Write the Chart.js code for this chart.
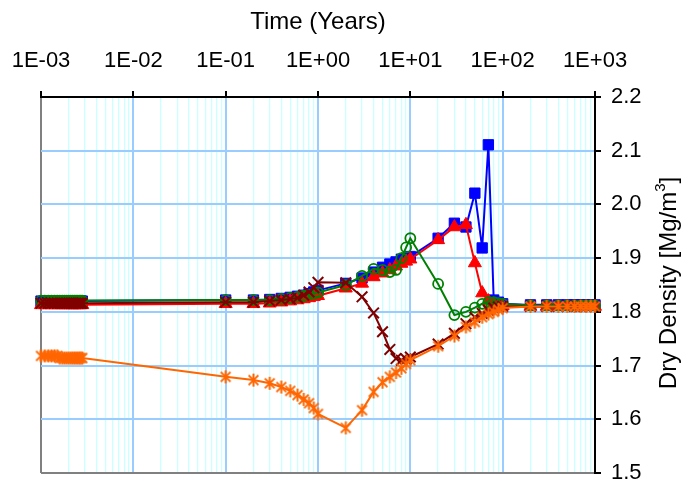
<!DOCTYPE html>
<html><head><meta charset="utf-8">
<script src="https://cdn.jsdelivr.net/npm/chart.js@4/dist/chart.umd.min.js"></script>
<style>html,body{margin:0;padding:0;background:#fff}</style>
</head><body>
<canvas id="c" width="684" height="485" style="display:block;width:684px;height:485px"></canvas>
<script>
// ---- data ----
const times = [0.001,0.0011,0.0012,0.0013,0.0014,0.0015,0.0016,0.0017,0.0018,0.0019,0.002,0.0021,0.0022,0.0023,0.0024,0.0025,0.0026,0.0027,0.0028,
  0.1,0.2,0.3,0.4,0.5,0.6,0.7,0.8,0.9,1,2,3,4,5,6,7,8,9,10,20,30,40,50,60,70,80,90,100,200,300,400,500,600,700,800,900,1000];
const blueVals = [1.82,1.82,1.82,1.82,1.82,1.82,1.82,1.82,1.82,1.82,1.82,1.82,1.82,1.82,1.82,1.82,1.82,1.82,1.82,
  1.822,1.822,1.823,1.825,1.827,1.829,1.831,1.834,1.837,1.84,
  1.853,1.863,1.874,1.883,1.889,1.893,1.898,1.900,1.903,
  1.937,1.965,1.958,2.021,1.919,2.111,1.822,1.818,1.815,
  1.813,1.813,1.813,1.813,1.813,1.813,1.813,1.813,1.813];
const redVals = [1.813,1.813,1.813,1.813,1.813,1.813,1.813,1.813,1.813,1.813,1.813,1.813,1.813,1.813,1.813,1.813,1.813,1.813,1.813,
  1.815,1.815,1.816,1.818,1.82,1.822,1.824,1.826,1.828,1.83,
  1.844,1.853,1.865,1.872,1.878,1.885,1.89,1.894,1.898,
  1.934,1.958,1.962,1.891,1.835,1.82,1.814,1.812,1.811,
  1.81,1.81,1.81,1.81,1.81,1.81,1.81,1.81,1.81];
const greenVals = [1.821,1.821,1.821,1.821,1.821,1.821,1.821,1.821,1.821,1.821,1.821,1.821,1.821,1.821,1.821,1.821,1.821,1.821,1.821,
  1.822,1.822,1.822,1.824,1.826,1.828,1.83,1.832,1.834,1.836,
  1.85,1.867,1.88,1.878,1.874,1.878,1.9,1.92,1.937,
  1.852,1.794,1.8,1.808,1.815,1.818,1.818,1.816,1.815,
  1.812,1.812,1.812,1.812,1.812,1.812,1.812,1.812,1.812];
const darkRedVals = [1.816,1.816,1.816,1.816,1.816,1.816,1.816,1.816,1.816,1.816,1.816,1.816,1.816,1.816,1.816,1.816,1.816,1.816,1.816,
  1.818,1.818,1.82,1.822,1.824,1.826,1.831,1.837,1.845,1.855,
  1.854,1.828,1.798,1.763,1.73,1.713,1.71,1.712,1.716,
  1.74,1.76,1.778,1.79,1.797,1.803,1.807,1.809,1.81,
  1.81,1.81,1.81,1.81,1.81,1.81,1.81,1.81,1.81];
const orangeVals = [1.718,1.718,1.718,1.718,1.718,1.718,1.714,1.714,1.714,1.714,1.714,1.714,1.714,1.714,1.714,1.714,1.714,1.714,1.714,
  1.679,1.673,1.667,1.66,1.653,1.645,1.637,1.63,1.621,1.61,
  1.584,1.617,1.651,1.669,1.679,1.687,1.695,1.703,1.71,
  1.736,1.755,1.772,1.781,1.79,1.796,1.8,1.804,1.807,
  1.81,1.81,1.81,1.81,1.81,1.81,1.81,1.81,1.81];
const xTickLabels = ['1E-03','1E-02','1E-01','1E+00','1E+01','1E+02','1E+03'];
const yTickLabels = ['1.5','1.6','1.7','1.8','1.9','2.0','2.1','2.2'];
const xTitle = 'Time (Years)';
const yTitleMain = 'Dry Density [Mg/m';
const yTitleSup = '3';
const yTitleEnd = ']';

// ---- styling ----
const FONT = '"Liberation Sans", Arial, Helvetica, sans-serif';
Chart.defaults.font.family = FONT;
Chart.defaults.color = '#000';

function pts(vals){ return times.map((t,i)=>({x:t, y:vals[i]})); }

function starMarker(color, r, lw){
  const s = Math.ceil(2*r + lw + 2);
  const c = document.createElement('canvas');
  c.width = s; c.height = s;
  const g = c.getContext('2d');
  g.strokeStyle = color; g.lineWidth = lw; g.lineCap = 'butt';
  const m = s/2, d = r*0.75;
  g.beginPath();
  g.moveTo(m-d,m-d); g.lineTo(m+d,m+d);
  g.moveTo(m+d,m-d); g.lineTo(m-d,m+d);
  g.moveTo(m,m-r); g.lineTo(m,m+r);
  g.stroke();
  return c;
}

const gridVals = [];
for (let e = -3; e <= 2; e++) for (let m = 1; m <= 9; m++) gridVals.push(+(m*Math.pow(10,e)).toPrecision(3));
gridVals.push(1000);
function isDecade(v){ const l = Math.log10(v); return Math.abs(l - Math.round(l)) < 1e-6; }
function noPad(s){ s.paddingLeft = 0; s.paddingRight = 0; s.paddingTop = 0; s.paddingBottom = 0; }

const yTitlePlugin = {
  id: 'yTitle',
  afterDraw(chart){
    const ctx = chart.ctx;
    ctx.save();
    ctx.translate(669, 283);
    ctx.rotate(-Math.PI/2);
    ctx.fillStyle = '#000';
    ctx.textBaseline = 'middle';
    ctx.textAlign = 'left';
    const f1 = '24px ' + FONT, f2 = '15px ' + FONT;
    ctx.font = f1;
    const wa = ctx.measureText(yTitleMain).width, wc = ctx.measureText(yTitleEnd).width;
    ctx.font = f2;
    const wb = ctx.measureText(yTitleSup).width;
    let x = -(wa + wb + wc)/2;
    ctx.font = f1; ctx.fillText(yTitleMain, x, 0); x += wa;
    ctx.font = f2; ctx.fillText(yTitleSup, x, -8); x += wb;
    ctx.font = f1; ctx.fillText(yTitleEnd, x, 0);
    ctx.restore();
  }
};

new Chart(document.getElementById('c'), {
  type: 'line',
  data: {
    datasets: [
      { data: pts(orangeVals), borderColor:'#FF6600', backgroundColor:'#FF6600', borderWidth:2,
        pointStyle: starMarker('#FF6600', 6.5, 2), pointRadius: 6.5, order: 1 },
      { data: pts(darkRedVals), borderColor:'#800000', backgroundColor:'#800000', borderWidth:2,
        pointStyle:'crossRot', pointRadius:7.5, pointBorderWidth:2, order: 2 },
      { data: pts(greenVals), borderColor:'#008000', backgroundColor:'rgba(0,0,0,0)', borderWidth:2,
        pointStyle:'circle', pointRadius:5, pointBorderWidth:1.8, order: 3 },
      { data: pts(redVals), borderColor:'#FF0000', backgroundColor:'#FF0000', borderWidth:2,
        pointStyle:'triangle', pointRadius:7.5, pointBorderWidth:1, order: 4 },
      { data: pts(blueVals), borderColor:'#0000FF', backgroundColor:'#0000FF', borderWidth:2,
        pointStyle:'rect', pointRadius:7.3, pointBorderWidth:1, order: 5 }
    ]
  },
  options: {
    responsive: false,
    animation: false,
    devicePixelRatio: 1,
    layout: { padding: { left: 41, right: 0, top: 0, bottom: 12 } },
    plugins: { legend: { display:false }, tooltip: { enabled:false } },
    elements: { line: { tension: 0 } },
    datasets: { line: { clip: false } },
    scales: {
      x: {
        type: 'logarithmic', position: 'top', min: 0.001, max: 1000,
        afterBuildTicks: (s) => { s.ticks = gridVals.map(v => ({ value: v, major: isDecade(v) })); },
        afterFit: (s) => { s.height = 97; noPad(s); },
        ticks: {
          autoSkip: false, maxRotation: 0, minRotation: 0, padding: 17, color: '#000',
          font: { size: 22 },
          callback: (v) => isDecade(v) ? xTickLabels[Math.round(Math.log10(v)) + 3] : ''
        },
        grid: {
          color: (c) => { const v = c.tick.value; if (v <= 0.0010001) return '#808080'; if (v >= 999) return 'rgba(0,0,0,0)'; return isDecade(v) ? '#99CCFF' : '#CCFFFF'; },
          lineWidth: (c) => { const v = c.tick.value; return isDecade(v) ? 2 : 1.3; },
          tickLength: 6,
          tickColor: (c) => isDecade(c.tick.value) ? '#000' : 'rgba(0,0,0,0)',
          tickWidth: 2
        },
        border: { color: '#000', width: 2 },
        title: { display: true, text: xTitle, color: '#000', font: { size: 24 }, padding: { top: 8, bottom: 0 } }
      },
      y: {
        type: 'linear', position: 'right', min: 1.5, max: 2.2,
        afterFit: (s) => { s.width = 89; noPad(s); },
        ticks: { stepSize: 0.1, padding: 10, color: '#000', font: { size: 22 },
          callback: (v) => yTickLabels[Math.round((v - 1.5) * 10)] },
        grid: {
          color: (c) => { const v = c.tick.value; if (Math.abs(v - 1.5) < 1e-6) return '#808080'; if (Math.abs(v - 2.2) < 1e-6) return 'rgba(0,0,0,0)'; return '#99CCFF'; },
          lineWidth: 2, tickLength: 6, tickColor: '#000', tickWidth: 2
        },
        border: { color: '#000', width: 2 }
      }
    }
  },
  plugins: [yTitlePlugin]
});
</script>
</body></html>
